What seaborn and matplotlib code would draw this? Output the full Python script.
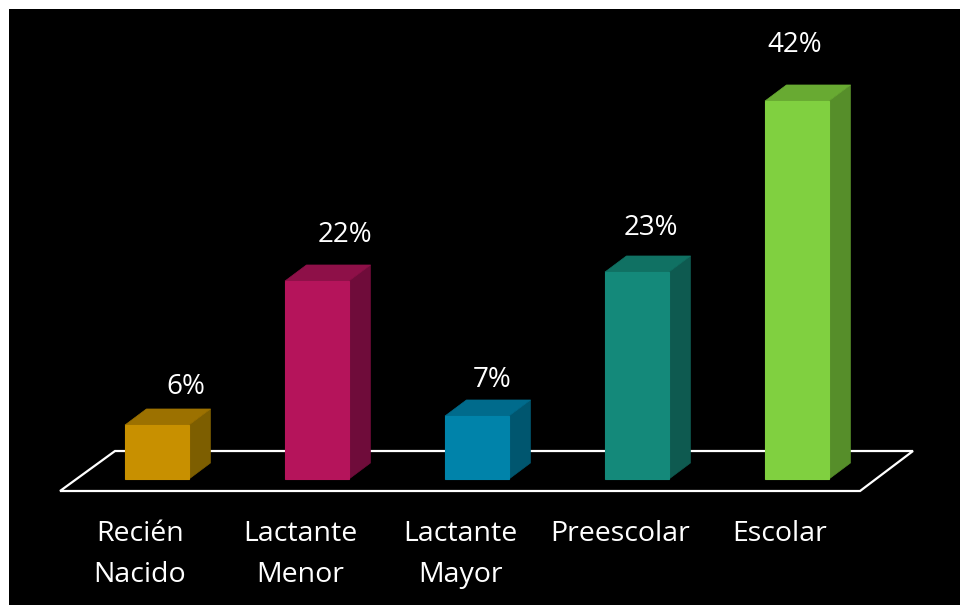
import matplotlib
matplotlib.use("Agg")
import matplotlib.pyplot as plt
from matplotlib.patches import Polygon
import seaborn as sns
import pandas as pd

# Age groups and share of cases (%)
categories = ["Recién Nacido", "Lactante Menor", "Lactante Mayor", "Preescolar", "Escolar"]
tick_labels = ["Recién\nNacido", "Lactante\nMenor", "Lactante\nMayor", "Preescolar", "Escolar"]
values = [6, 22, 7, 23, 42]

front_colors = ["#C89000", "#B5145B", "#0083AA", "#14897A", "#80D040"]
top_colors = ["#9C7100", "#8E1048", "#006B8C", "#107163", "#68AA32"]
side_colors = ["#7D5E00", "#6F0C3A", "#00566F", "#0E5A50", "#568E2A"]

# per-bar nudges for the value labels (x in category units, y in %)
label_shift = [(0.18, 4.2), (0.175, 5.1), (0.094, 4.0), (0.088, 4.9), (-0.012, 6.2)]

df = pd.DataFrame({"grupo": categories, "pct": values})

sns.set_theme(style="dark")
plt.rcParams["font.family"] = ["Open Sans", "DejaVu Sans"]

fig = plt.figure(figsize=(9.6, 6.05), dpi=100)
fig.patch.set_facecolor("white")
ax = fig.add_axes([9 / 960, 0, 951 / 960, 596 / 605])

bar_w = 0.4
depth_x, depth_y = 0.134, 1.78

sns.barplot(data=df, x="grupo", y="pct", hue="grupo", palette=front_colors,
            legend=False, width=bar_w, ax=ax, linewidth=0.8, saturation=1,
            zorder=3)
for patch, c in zip(ax.patches, front_colors):
    patch.set_edgecolor(c)

# floor parallelogram
floor_front, floor_back = -1.333, 3.11
floor = Polygon([(-0.606, floor_front), (4.394, floor_front),
                 (4.725, floor_back), (-0.2625, floor_back)],
                closed=True, fill=False, edgecolor="white", linewidth=1.6, zorder=1)
ax.add_patch(floor)

# 3D caps and side faces of each bar
for i, v in enumerate(values):
    left, right = i - bar_w / 2, i + bar_w / 2
    side = Polygon([(right, 0), (right + depth_x, depth_y),
                    (right + depth_x, v + depth_y), (right, v)],
                   closed=True, facecolor=side_colors[i], edgecolor=side_colors[i],
                   linewidth=0.5, zorder=2)
    top = Polygon([(left, v), (right, v), (right + depth_x, v + depth_y),
                   (left + depth_x, v + depth_y)],
                  closed=True, facecolor=top_colors[i], edgecolor=top_colors[i],
                  linewidth=0.5, zorder=2)
    ax.add_patch(side)
    ax.add_patch(top)
    dx, dy = label_shift[i]
    ax.text(i + dx, v + dy, f"{v}%", color="white", fontsize=20,
            ha="center", va="center")
    ax.text(i - 0.106, -4.6, tick_labels[i], color="white", fontsize=20.5,
            ha="center", va="top", linespacing=1.62)

# axis limits chosen so that one category step spans 160 px and 1 % spans 9 px
ax.set_xlim(-(157 - 9) / 160, (960 - 157) / 160)
ax.set_ylim(-(605 - 479) / 9, (479 - 9) / 9)
ax.set_facecolor("black")
ax.grid(False)
ax.set_xticks([])
ax.set_yticks([])
ax.set_xlabel("")
ax.set_ylabel("")
for s in ax.spines.values():
    s.set_visible(False)

fig.savefig("out.png", dpi=100, facecolor="white")
